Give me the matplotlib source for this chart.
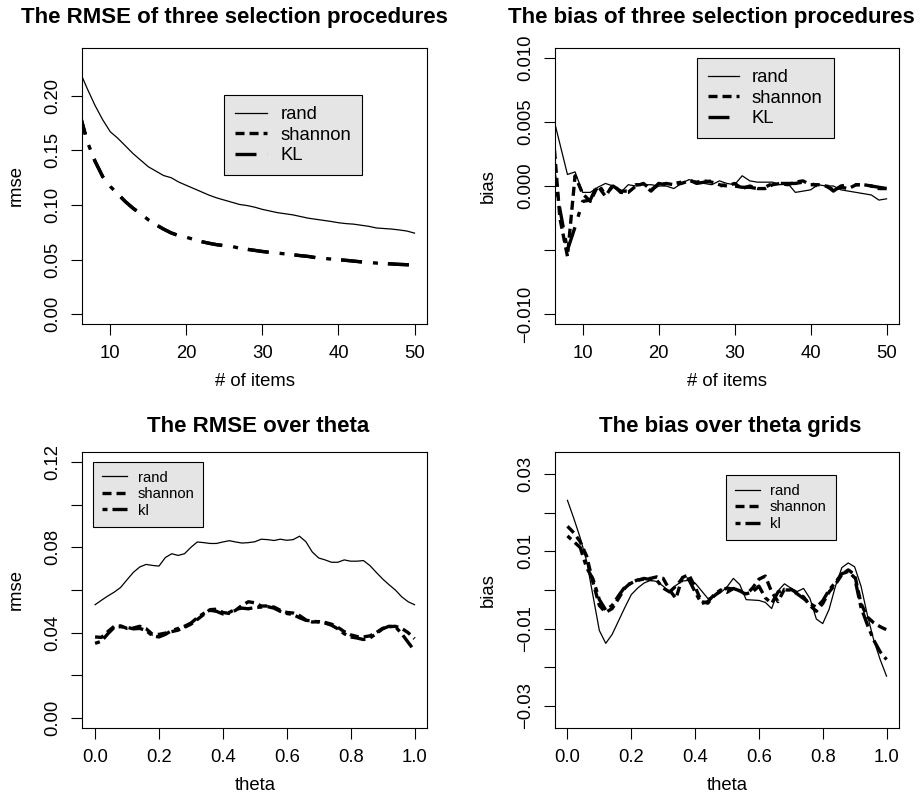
import numpy as np
import matplotlib
matplotlib.use("Agg")
import matplotlib.pyplot as plt
from matplotlib.lines import Line2D

plt.rcParams["font.family"] = ["Liberation Sans", "DejaVu Sans"]
plt.rcParams["lines.scale_dashes"] = False
plt.rcParams["axes.unicode_minus"] = True

# ---------------- data ----------------
items = list(range(6, 51))

rmse_rand = [0.222, 0.206, 0.191, 0.178, 0.167, 0.161, 0.154, 0.147, 0.141, 0.135,
             0.131, 0.127, 0.125, 0.121, 0.118, 0.115, 0.112, 0.109, 0.1065, 0.1045,
             0.1025, 0.1005, 0.0995, 0.098, 0.096, 0.0945, 0.093, 0.092, 0.091, 0.0895,
             0.088, 0.087, 0.086, 0.085, 0.0838, 0.083, 0.0825, 0.0815, 0.0805, 0.079,
             0.0785, 0.078, 0.0772, 0.0762, 0.0743]
rmse_shannon = [0.183, 0.1575, 0.140, 0.126, 0.117, 0.110, 0.103, 0.097, 0.092, 0.0865,
                0.082, 0.078, 0.0745, 0.072, 0.0705, 0.0685, 0.0665, 0.065, 0.0637, 0.0628,
                0.0621, 0.0605, 0.0595, 0.0585, 0.0575, 0.0567, 0.056, 0.0553, 0.0545, 0.0537,
                0.053, 0.0519, 0.0512, 0.0506, 0.050, 0.0494, 0.0487, 0.048, 0.0474, 0.0469,
                0.0465, 0.0461, 0.0457, 0.0454, 0.0451]
rmse_kl = [0.183, 0.1575, 0.140, 0.126, 0.117, 0.110, 0.103, 0.097, 0.092, 0.0865,
           0.082, 0.078, 0.0745, 0.072, 0.0705, 0.0685, 0.0665, 0.065, 0.0637, 0.0628,
           0.0621, 0.0605, 0.0595, 0.0585, 0.0575, 0.0567, 0.056, 0.0553, 0.0545, 0.0537,
           0.053, 0.0519, 0.0512, 0.0506, 0.050, 0.0494, 0.0487, 0.048, 0.0474, 0.0469,
           0.0465, 0.0461, 0.0457, 0.0454, 0.0451]

bias_rand = [0.0057, 0.0033, 0.0009, 0.0011, -0.0005, -0.0005, -0.0001, 0.0002, 0.0000, -0.0005,
             0.0001, 0.0000, 0.0001, 0.0001, 0.0000, 0.0000, -0.0002, 0.0002, 0.0005, 0.0003,
             0.0002, 0.0001, 0.0004, 0.0002, 0.0001, 0.0008, 0.0004, 0.0003, 0.0003, 0.0003,
             0.0001, 0.0002, -0.0005, -0.0004, -0.0003, 0.0001, 0.0000, 0.0000, -0.0003, -0.0004,
             -0.0005, -0.0006, -0.0007, -0.0011, -0.0010]
bias_shannon = [0.0050, -0.0025, -0.0055, 0.0008, -0.0006, -0.0012, 0.0000, -0.0008, 0.0001, -0.0005,
                -0.0005, 0.0000, 0.0002, -0.0003, 0.0001, 0.0002, 0.0001, 0.0002, 0.0004, 0.0003,
                0.0004, 0.0003, 0.0001, 0.0000, 0.0002, -0.0002, 0.0000, -0.0002, -0.0002, 0.0001,
                0.0002, 0.0001, 0.0003, 0.0004, 0.0001, 0.0001, 0.0000, -0.0003, -0.0001, -0.0002,
                0.0001, 0.0001, 0.0000, -0.0002, -0.0002]
bias_kl = [0.0020, -0.0018, -0.0050, -0.0032, -0.0012, -0.0011, 0.0002, -0.0007, 0.0000, -0.0004,
           -0.0004, 0.0001, 0.0001, -0.0004, 0.0002, 0.0001, 0.0002, 0.0003, 0.0005, 0.0002,
           0.0003, 0.0004, 0.0000, 0.0001, 0.0000, -0.0001, -0.0001, -0.0002, -0.0001, 0.0002,
           0.0002, 0.0002, 0.0002, 0.0003, 0.0002, 0.0000, 0.0001, -0.0004, 0.0000, 0.0001,
           0.0001, 0.0001, 0.0000, -0.0001, -0.0002]

theta = np.round(np.arange(51) * 0.02, 2)

theta_rmse_rand = [0.0531, 0.0552, 0.0572, 0.0590, 0.0612, 0.0648, 0.0683, 0.0708, 0.0720, 0.0715,
                   0.0712, 0.0752, 0.0770, 0.0762, 0.0770, 0.0800, 0.0825, 0.0822, 0.0818, 0.0818,
                   0.0825, 0.0831, 0.0825, 0.0820, 0.0822, 0.0826, 0.0838, 0.0836, 0.0832, 0.0838,
                   0.0833, 0.0836, 0.0852, 0.0826, 0.0778, 0.0750, 0.0741, 0.0730, 0.0730, 0.0741,
                   0.0735, 0.0735, 0.0738, 0.0715, 0.0683, 0.0652, 0.0625, 0.0600, 0.0568, 0.0545,
                   0.0531]
theta_rmse_shannon = [0.0380, 0.0378, 0.0405, 0.0430, 0.0432, 0.0420, 0.0422, 0.0430, 0.0418, 0.0392,
                      0.0392, 0.0398, 0.0405, 0.0412, 0.0425, 0.0440, 0.0462, 0.0485, 0.0508, 0.0510,
                      0.0495, 0.0490, 0.0505, 0.0528, 0.0545, 0.0540, 0.0525, 0.0525, 0.0520, 0.0505,
                      0.0495, 0.0492, 0.0480, 0.0460, 0.0450, 0.0452, 0.0448, 0.0440, 0.0425, 0.0405,
                      0.0390, 0.0382, 0.0380, 0.0385, 0.0400, 0.0420, 0.0428, 0.0430, 0.0420, 0.0400,
                      0.0372]
theta_rmse_kl = [0.0350, 0.0360, 0.0395, 0.0425, 0.0428, 0.0425, 0.0418, 0.0420, 0.0410, 0.0385,
                 0.0380, 0.0392, 0.0410, 0.0420, 0.0430, 0.0445, 0.0470, 0.0490, 0.0505, 0.0500,
                 0.0488, 0.0495, 0.0510, 0.0515, 0.0512, 0.0518, 0.0520, 0.0522, 0.0515, 0.0500,
                 0.0490, 0.0485, 0.0470, 0.0458, 0.0455, 0.0450, 0.0445, 0.0435, 0.0418, 0.0395,
                 0.0380, 0.0375, 0.0368, 0.0375, 0.0395, 0.0418, 0.0430, 0.0428, 0.0395, 0.0355,
                 0.0315]

theta_bias_rand = [0.0232, 0.0185, 0.0135, 0.0075, -0.0015, -0.0105, -0.0138, -0.0115, -0.0080, -0.0045,
                   -0.0012, 0.0005, 0.0018, 0.0025, 0.0022, 0.0010, -0.0006, 0.0012, 0.0023, 0.0025,
                   0.0018, -0.0002, -0.0022, -0.0016, -0.0007, 0.0008, 0.0030, 0.0014, -0.0025, -0.0026,
                   -0.0027, -0.0032, -0.0048, -0.0002, 0.0016, 0.0005, -0.0004, 0.0004, -0.0022, -0.0075,
                   -0.0087, -0.0050, 0.0010, 0.0058, 0.0070, 0.0060, 0.0010, -0.0065, -0.0130, -0.0180,
                   -0.0223]
theta_bias_shannon = [0.0165, 0.0148, 0.0125, 0.0088, 0.0020, -0.0040, -0.0058, -0.0048, -0.0022, 0.0005,
                      0.0020, 0.0026, 0.0028, 0.0030, 0.0034, 0.0030, 0.0000, -0.0022, 0.0032, 0.0040,
                      0.0008, -0.0030, -0.0034, -0.0015, -0.0002, 0.0005, 0.0002, -0.0002, -0.0012, 0.0005,
                      0.0028, 0.0036, -0.0005, -0.0030, 0.0002, 0.0002, -0.0008, -0.0018, -0.0040, -0.0055,
                      -0.0035, -0.0005, 0.0015, 0.0040, 0.0052, 0.0040, -0.0035, -0.0070, -0.0085, -0.0095,
                      -0.0103]
theta_bias_kl = [0.0140, 0.0125, 0.0110, 0.0058, 0.0028, -0.0025, -0.0052, -0.0040, -0.0015, 0.0008,
                 0.0018, 0.0025, 0.0030, 0.0027, 0.0025, 0.0005, -0.0005, 0.0010, 0.0030, 0.0028,
                 -0.0005, -0.0035, -0.0030, -0.0012, 0.0000, -0.0006, 0.0004, -0.0002, -0.0010, -0.0005,
                 0.0010, -0.0020, -0.0035, -0.0005, 0.0000, 0.0000, -0.0010, -0.0022, -0.0035, -0.0045,
                 -0.0028, 0.0000, 0.0020, 0.0042, 0.0048, 0.0032, -0.0045, -0.0090, -0.0130, -0.0160,
                 -0.0180]

# ---------------- styles ----------------
THIN = 0.9
THICK = 2.4
DASHED = (0, (6.5, 3.6))
DOTDASH = (0, (15.1, 7.9, 3.6, 7.2))
DASH_UNDER = (0, (15.1, 18.7))     # dashes lying under the dot-dash segments
TWODASH = (0, (3.6, 3.6, 10.8, 3.6))
BASE = 13.3
SMALL = 10.7
KEY_FILL = "#E5E5E5"


def style_axes(ax):
    for s in ax.spines.values():
        s.set_linewidth(0.8)
        s.set_color("black")
    ax.tick_params(direction="out", length=7.9, width=0.8, labelsize=BASE,
                   pad=7, top=False, right=False, colors="black")
    ax.tick_params(axis="y", labelrotation=90)
    for lab in ax.get_yticklabels():
        lab.set_verticalalignment("center")


def add_key(ax, labels, styles, anchor, fontsize, handlelength, spacing):
    handles = [Line2D([], [], color="black", lw=lw, linestyle=ls) for lw, ls in styles]
    leg = ax.legend(handles, labels, loc="upper left", bbox_to_anchor=anchor,
                    borderaxespad=0, borderpad=0.6, handlelength=handlelength,
                    handletextpad=0.7, labelspacing=spacing, fontsize=fontsize,
                    fancybox=False, framealpha=1, facecolor=KEY_FILL, edgecolor="black")
    leg.get_frame().set_linewidth(0.8)
    return leg


def set_title(ax, text, x, pad):
    t = ax.set_title(text, fontsize=16, fontweight="bold", pad=pad)
    t.set_x(x)


def fmt(vals, keep, decimals):
    out = []
    for i, v in enumerate(vals):
        if i in keep:
            s = f"{v:.{decimals}f}"
            out.append(s.replace("-", "\u2212"))
        else:
            out.append("")
    return out


fig = plt.figure(figsize=(9.21, 8.02), dpi=100)
W, H = 921.0, 802.0


def axes_at(x0, y0, x1, y1):
    return fig.add_axes([x0 / W, 1 - y1 / H, (x1 - x0) / W, (y1 - y0) / H])


ax1 = axes_at(82.3, 47.7, 427.3, 324.3)
ax2 = axes_at(554.7, 47.7, 899.3, 324.3)
ax3 = axes_at(82.3, 451.7, 427.3, 728.3)
ax4 = axes_at(554.7, 451.7, 899.3, 728.3)

# ---- RMSE over number of items ----
ax1.plot(items, rmse_rand, color="black", lw=THIN)
ax1.plot(items, rmse_shannon, color="black", lw=THICK, linestyle=DASH_UNDER)
ax1.plot(items, rmse_kl, color="black", lw=THICK, linestyle=DOTDASH)
ax1.set_xlim(6.32, 51.68)
ax1.set_ylim(-0.0091, 0.2439)
ax1.set_xticks([10, 20, 30, 40, 50])
yt1 = [0.0, 0.05, 0.10, 0.15, 0.20]
ax1.set_yticks(yt1)
ax1.set_yticklabels(fmt(yt1, range(5), 2))
ax1.set_xlabel("# of items", fontsize=BASE)
ax1.set_ylabel("rmse", fontsize=BASE)
style_axes(ax1)
set_title(ax1, "The RMSE of three selection procedures", 0.44, 17.6)
add_key(ax1, ["rand", "shannon", "KL"],
        [(THIN, "-"), (THICK, DASHED), (THICK, DOTDASH)],
        (0.4116, 0.829), BASE, 1.73, 0.19)

# ---- bias over number of items ----
ax2.plot(items, bias_rand, color="black", lw=THIN)
ax2.plot(items, bias_shannon, color="black", lw=THICK, linestyle=DASHED)
ax2.plot(items, bias_kl, color="black", lw=THICK, linestyle=DOTDASH)
ax2.set_xlim(6.32, 51.68)
ax2.set_ylim(-0.0108, 0.0108)
ax2.set_xticks([10, 20, 30, 40, 50])
yt2 = [-0.010, -0.005, 0.0, 0.005, 0.010]
ax2.set_yticks(yt2)
ax2.set_yticklabels(fmt(yt2, [0, 2, 3, 4], 3))
ax2.set_xlabel("# of items", fontsize=BASE)
ax2.set_ylabel("bias", fontsize=BASE)
style_axes(ax2)
set_title(ax2, "The bias of three selection procedures", 0.4556, 17.6)
add_key(ax2, ["rand", "shannon", "KL"],
        [(THIN, "-"), (THICK, DASHED), (THICK, DOTDASH)],
        (0.412, 0.9617), BASE, 1.68, 0.19)

# ---- RMSE over theta ----
ax3.plot(theta, theta_rmse_rand, color="black", lw=THIN)
ax3.plot(theta, theta_rmse_shannon, color="black", lw=THICK, linestyle=DASHED)
ax3.plot(theta, theta_rmse_kl, color="black", lw=THICK, linestyle=TWODASH)
ax3.set_xlim(-0.04, 1.04)
ax3.set_ylim(-0.0048, 0.1248)
xt = [0.0, 0.2, 0.4, 0.6, 0.8, 1.0]
ax3.set_xticks(xt)
ax3.set_xticklabels(fmt(xt, range(6), 1))
yt3 = [0.0, 0.02, 0.04, 0.06, 0.08, 0.10, 0.12]
ax3.set_yticks(yt3)
ax3.set_yticklabels(fmt(yt3, [0, 2, 4, 6], 2))
ax3.set_xlabel("theta", fontsize=BASE)
ax3.set_ylabel("rmse", fontsize=BASE)
style_axes(ax3)
set_title(ax3, "The RMSE over theta", 0.51, 14.0)
add_key(ax3, ["rand", "shannon", "kl"],
        [(THIN, "-"), (THICK, DASHED), (THICK, TWODASH)],
        (0.0319, 0.9638), SMALL, 1.68, 0.17)

# ---- bias over theta ----
ax4.plot(theta, theta_bias_rand, color="black", lw=THIN)
ax4.plot(theta, theta_bias_shannon, color="black", lw=THICK, linestyle=DASHED)
ax4.plot(theta, theta_bias_kl, color="black", lw=THICK, linestyle=TWODASH)
ax4.set_xlim(-0.04, 1.04)
ax4.set_ylim(-0.0358, 0.0358)
ax4.set_xticks(xt)
ax4.set_xticklabels(fmt(xt, range(6), 1))
yt4 = [-0.03, -0.02, -0.01, 0.0, 0.01, 0.02, 0.03]
ax4.set_yticks(yt4)
ax4.set_yticklabels(fmt(yt4, [0, 2, 4, 6], 2))
ax4.set_xlabel("theta", fontsize=BASE)
ax4.set_ylabel("bias", fontsize=BASE)
style_axes(ax4)
set_title(ax4, "The bias over theta grids", 0.51, 14.0)
add_key(ax4, ["rand", "shannon", "kl"],
        [(THIN, "-"), (THICK, DASHED), (THICK, TWODASH)],
        (0.4962, 0.9158), SMALL, 1.68, 0.17)

for ax in (ax1, ax2, ax3, ax4):
    ax.xaxis.set_label_coords(0.5, -0.176)
    ax.yaxis.set_label_coords(-0.168, 0.5)

fig.savefig("out.png", dpi=100, facecolor="white")
